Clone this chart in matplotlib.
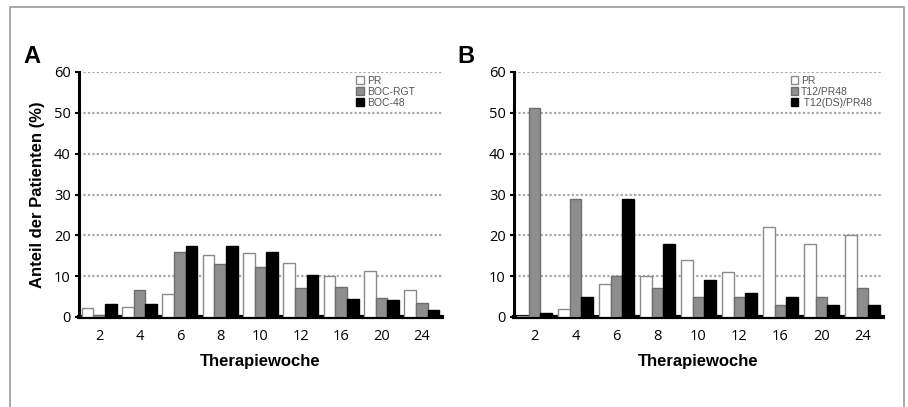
import numpy as np
import matplotlib
matplotlib.use("Agg")
from matplotlib import pyplot as plt
from matplotlib.patches import Rectangle

# Therapiewochen (x categories)
weeks = ["2", "4", "6", "8", "10", "12", "16", "20", "24"]

# Panel A
a_labels = ["PR", "BOC-RGT", "BOC-48"]
a_pr = [2.2, 2.5, 5.7, 15.3, 15.6, 13.2, 10.0, 11.2, 6.5]
a_rgt = [0.5, 6.6, 16.0, 13.0, 12.3, 7.2, 7.4, 4.7, 3.4]
a_48 = [3.2, 3.3, 17.4, 17.5, 15.9, 10.3, 4.4, 4.2, 1.6]

# Panel B
b_labels = ["PR", "T12/PR48", " T12(DS)/PR48"]
b_pr = [0.3, 2.0, 8.0, 10.0, 14.0, 11.0, 22.0, 18.0, 20.0]
b_t12 = [51.3, 29.0, 10.0, 7.0, 5.0, 5.0, 3.0, 5.0, 7.0]
b_ds = [1.0, 5.0, 29.0, 18.0, 9.0, 6.0, 5.0, 3.0, 3.0]

tick_font = "Open Sans"
label_font = "Liberation Sans"

fig = plt.figure(figsize=(9.08, 4.07), dpi=100)

# grey frame around the whole figure
fig.patches.append(Rectangle((10/908, -0.02), 894/908, 1.02 - 7/407,
                             transform=fig.transFigure, fill=False,
                             edgecolor="#9a9a9a", linewidth=1.2))

def draw_panel(ax, series, labels, leg_anchor):
    x = np.arange(len(weeks))
    w = 0.29
    face = ["white", "#8e8e8e", "black"]
    edge = ["#8a8a8a", "#6e6e6e", "black"]
    for i, vals in enumerate(series):
        ax.bar(x + (i - 1) * w, vals, width=w, color=face[i], edgecolor=edge[i],
               linewidth=1.0, label=labels[i], zorder=3)
    ax.set_xlim(-0.5, 8.5)
    ax.set_ylim(0, 60)
    ax.set_yticks(range(0, 61, 10))
    ax.set_xticks(x)
    ax.set_xticklabels(weeks)
    for s in ["top", "right"]:
        ax.spines[s].set_visible(False)
    ax.spines["left"].set_linewidth(2.2)
    ax.spines["bottom"].set_linewidth(3)
    ax.tick_params(axis="y", length=3, width=1.5, pad=3)
    ax.tick_params(axis="x", length=0, pad=9)
    for t in ax.get_xticklabels() + ax.get_yticklabels():
        t.set_fontfamily(tick_font)
        t.set_fontsize(10.5)
    ax.yaxis.grid(True, color="#a8a8a8", linestyle=(0, (1, 1)), linewidth=1.6, zorder=0)
    ax.set_axisbelow(True)
    ax.set_xlabel("Therapiewoche", fontfamily=label_font, fontweight="bold",
                  fontsize=12, labelpad=7)
    leg = ax.legend(loc="upper right", bbox_to_anchor=leg_anchor, frameon=False,
                    prop={"family": label_font, "size": 7.5},
                    handlelength=0.7, handleheight=0.7,
                    handletextpad=0.3, labelspacing=0.1, borderaxespad=0.0,
                    borderpad=0.0)
    for t in leg.get_texts():
        t.set_color("#555555")

axA = fig.add_axes([79/908, 1 - 317/407, 363/908, 245/407])
draw_panel(axA, [a_pr, a_rgt, a_48], a_labels, (0.925, 0.985))
axA.set_ylabel("Anteil der Patienten (%)", fontfamily=label_font, fontweight="bold",
               fontsize=12, labelpad=6)

axB = fig.add_axes([514/908, 1 - 317/407, 369/908, 245/407])
draw_panel(axB, [b_pr, b_t12, b_ds], b_labels, (0.97, 0.985))

fig.text(23/908, 1 - 63/407, "A", fontfamily=label_font, fontweight="bold", fontsize=17)
fig.text(457/908, 1 - 63/407, "B", fontfamily=label_font, fontweight="bold", fontsize=17)

fig.savefig("out.png", dpi=100)
